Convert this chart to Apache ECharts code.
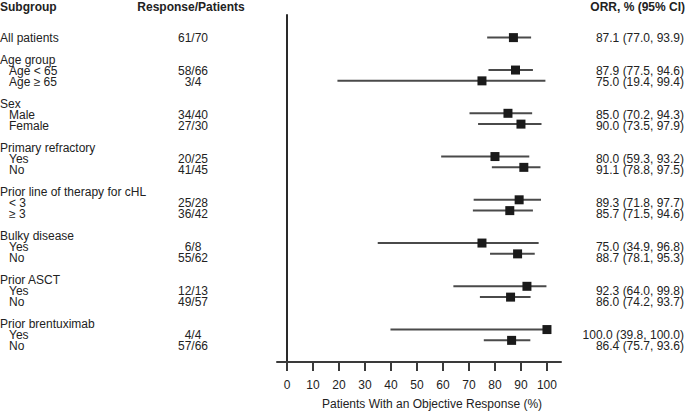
<!DOCTYPE html>
<html>
<head>
<meta charset="utf-8">
<script src="https://cdn.jsdelivr.net/npm/echarts/dist/echarts.min.js"></script>
<style>html,body{margin:0;padding:0;background:#fff}#c{width:685px;height:415px}</style>
</head>
<body>
<div id="c"></div>
<script>
// ---- data ----
const allLabel = 'All patients';
const groupNames = ['Age group', 'Sex', 'Primary refractory', 'Prior line of therapy for cHL', 'Bulky disease', 'Prior ASCT', 'Prior brentuximab'];
const subLabels = [['Age < 65', 'Age ≥ 65'], ['Male', 'Female'], ['Yes', 'No'], ['< 3', '≥ 3'], ['Yes', 'No'], ['Yes', 'No'], ['Yes', 'No']];
const responses = ['61/70', '58/66', '3/4', '34/40', '27/30', '20/25', '41/45', '25/28', '36/42', '6/8', '55/62', '12/13', '49/57', '4/4', '57/66'];
const orr = [87.1, 87.9, 75.0, 85.0, 90.0, 80.0, 91.1, 89.3, 85.7, 75.0, 88.7, 92.3, 86.0, 100.0, 86.4];
const ciLow = [77.0, 77.5, 19.4, 70.2, 73.5, 59.3, 78.8, 71.8, 71.5, 34.9, 78.1, 64.0, 74.2, 39.8, 75.7];
const ciHigh = [93.9, 94.6, 99.4, 94.3, 97.9, 93.2, 97.5, 97.7, 94.6, 96.8, 95.3, 99.8, 93.7, 100.0, 93.6];
const xTicks = [0, 10, 20, 30, 40, 50, 60, 70, 80, 90, 100];
const headers = ['Subgroup', 'Response/Patients', 'ORR, % (95% CI)'];
const xTitle = 'Patients With an Objective Response (%)';

// ---- row layout ----
const ROW_PX = 11, ROW0_PX = 38, W = 685, H = 415;
const labelRows = [{ text: allLabel, r: 0, indent: false }];
const estRows = [0];
let r = 0;
groupNames.forEach((g, i) => {
  r += 2;
  labelRows.push({ text: g, r: r, indent: false });
  subLabels[i].forEach(s => {
    r += 1;
    labelRows.push({ text: s, r: r, indent: true });
    estRows.push(r);
  });
});

const FAM = '"Liberation Sans", Arial, Helvetica, sans-serif';
const headerR = (7 - ROW0_PX) / ROW_PX;
const texts = [];
texts.push({ x: 0, r: headerR, text: headers[0], align: 'left', bold: true });
texts.push({ x: 191, r: headerR, text: headers[1], align: 'center', bold: true });
texts.push({ x: 685, r: headerR, text: headers[2], align: 'right', bold: true });
labelRows.forEach(l => texts.push({ x: l.indent ? 9 : 0, r: l.r, text: l.text, align: 'left', bold: false }));
estRows.forEach((er, i) => {
  texts.push({ x: 193, r: er, text: responses[i], align: 'center', bold: false });
  texts.push({ x: 684, r: er, text: orr[i].toFixed(1) + ' (' + ciLow[i].toFixed(1) + ', ' + ciHigh[i].toFixed(1) + ')', align: 'right', bold: false });
});

const chart = echarts.init(document.getElementById('c'), null, { renderer: 'svg' });
const gTop = 15, gBottom = 47;
const yMin = -(ROW0_PX - gTop) / ROW_PX;
const yMax = yMin + (H - gTop - gBottom) / ROW_PX;

chart.setOption({
  animation: false,
  backgroundColor: '#fff',
  grid: [
    { left: 277, right: 124, top: gTop, bottom: gBottom },
    { left: 0, right: 0, top: 0, bottom: 0 }
  ],
  xAxis: [
    {
      gridIndex: 0, type: 'value', min: -3.85, max: 105.4, position: 'bottom',
      axisLine: { onZero: false, lineStyle: { color: '#3a3a3a', width: 2 } },
      axisTick: { show: true, customValues: xTicks, length: 9, lineStyle: { color: '#3a3a3a', width: 2 } },
      axisLabel: { customValues: xTicks, margin: 17, color: '#222', fontSize: 12, fontFamily: FAM },
      splitLine: { show: false },
      name: xTitle, nameLocation: 'middle', nameGap: 36,
      nameTextStyle: { color: '#222', fontSize: 12, fontFamily: FAM, padding: [0, 0, 0, 26] }
    },
    { gridIndex: 1, type: 'value', min: 0, max: W, show: false }
  ],
  yAxis: [
    {
      gridIndex: 0, type: 'value', min: yMin, max: yMax, inverse: true,
      axisLine: { show: true, onZero: true, lineStyle: { color: '#2a2a2a', width: 2 } },
      axisTick: { show: false }, axisLabel: { show: false }, splitLine: { show: false }
    },
    {
      gridIndex: 1, type: 'value', inverse: true, show: false,
      min: -ROW0_PX / ROW_PX, max: (H - ROW0_PX) / ROW_PX
    }
  ],
  series: [
    {
      type: 'custom', xAxisIndex: 0, yAxisIndex: 0,
      data: estRows.map((er, i) => [ciLow[i], ciHigh[i], er]),
      encode: { x: [0, 1], y: 2 },
      renderItem: function (params, api) {
        const p1 = api.coord([api.value(0), api.value(2)]);
        const p2 = api.coord([api.value(1), api.value(2)]);
        return { type: 'line', shape: { x1: p1[0], y1: p1[1], x2: p2[0], y2: p2[1] }, style: { stroke: '#4a4a4a', lineWidth: 2 } };
      }
    },
    {
      type: 'scatter', xAxisIndex: 0, yAxisIndex: 0, symbol: 'rect', symbolSize: 9,
      itemStyle: { color: '#1a1a1a', opacity: 1 },
      data: estRows.map((er, i) => [orr[i], er]), z: 5
    },
    {
      type: 'custom', xAxisIndex: 1, yAxisIndex: 1, clip: false,
      data: texts.map(t => [t.x, t.r]),
      renderItem: function (params, api) {
        const t = texts[params.dataIndex];
        const p = api.coord([api.value(0), api.value(1)]);
        return {
          type: 'text', x: p[0], y: p[1],
          style: {
            text: t.text, fontSize: 12, fontFamily: FAM, fontWeight: t.bold ? 'bold' : 'normal',
            lineHeight: 10, fill: '#222', align: t.align, textAlign: t.align,
            verticalAlign: 'middle', textVerticalAlign: 'middle'
          }
        };
      }
    }
  ]
});
</script>
</body>
</html>
